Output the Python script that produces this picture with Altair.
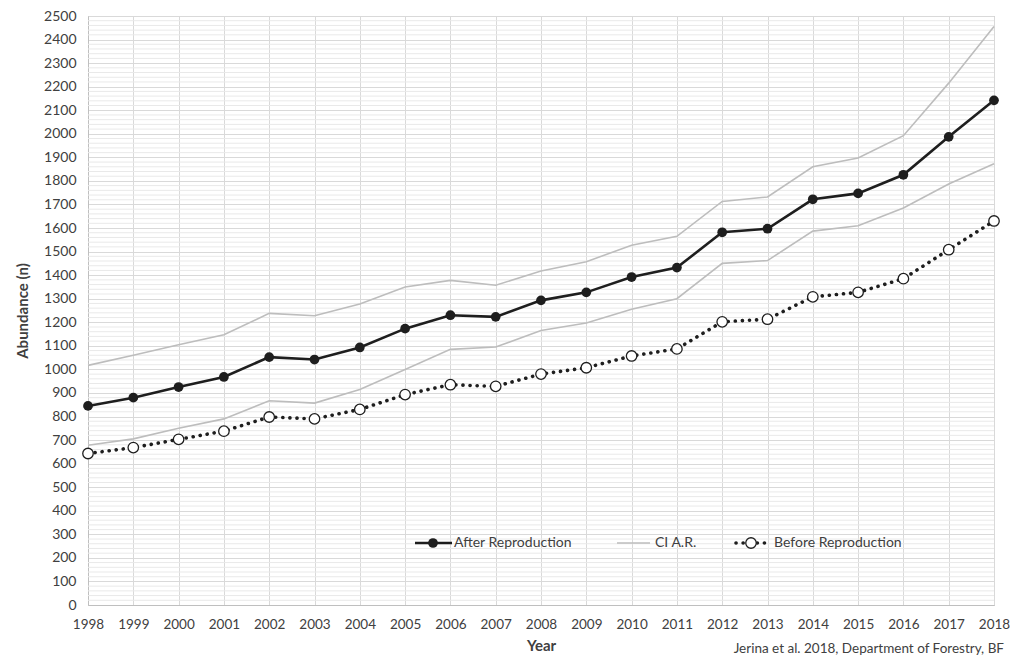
import altair as alt
import pandas as pd

years = list(range(1998, 2019))
after_repro = [845, 880, 925, 968, 1052, 1042, 1093, 1173, 1230, 1223, 1293,
               1327, 1392, 1432, 1582, 1597, 1722, 1747, 1826, 1987, 2142]
before_repro = [643, 668, 703, 738, 798, 790, 830, 893, 935, 928, 980,
                1007, 1057, 1087, 1202, 1213, 1308, 1327, 1385, 1508, 1630]
ci_upper = [1017, 1060, 1105, 1147, 1238, 1228, 1278, 1350, 1378, 1357, 1418,
            1457, 1527, 1565, 1713, 1732, 1860, 1897, 1992, 2215, 2455]
ci_lower = [678, 705, 750, 790, 867, 857, 915, 1000, 1085, 1095, 1165,
            1197, 1255, 1300, 1450, 1462, 1587, 1610, 1685, 1787, 1873]
y_ticks = list(range(0, 2501, 100))
minor_ticks = [v for v in range(0, 2501, 20) if v % 100 != 0]
legend_labels = ["After Reproduction", "CI A.R.", "Before Reproduction"]
credit_text = "Jerina et al. 2018, Department of Forestry, BF"

W, H = 906, 589
FONT = "Lato"
TXT = "#404040"

df = pd.DataFrame({"Year": years, "After": after_repro, "Before": before_repro})
ci_df = pd.concat([
    pd.DataFrame({"Year": years, "v": ci_upper, "s": "upper"}),
    pd.DataFrame({"Year": years, "v": ci_lower, "s": "lower"}),
])
minor_df = pd.DataFrame({"m": minor_ticks})
one = pd.DataFrame({"k": [0]})

xs = alt.Scale(domain=[1998, 2018], nice=False, zero=False)
ys = alt.Scale(domain=[0, 2500], nice=False)

x_axis = alt.Axis(values=years, format="d", title="Year", grid=True,
                  gridColor="#d9d9d9", ticks=False, labelPadding=12,
                  labelFontSize=13.5,
                  labelOverlap=False, labelFlush=False, labelBound=False,
                  domainColor="#bfbfbf", titlePadding=8)
y_axis = alt.Axis(values=y_ticks, format="d", title="Abundance (n)", grid=True,
                  gridColor="#d9d9d9", ticks=False, labelPadding=12,
                  labelOverlap=False, labelFlush=False, domainColor="#bfbfbf",
                  titlePadding=13)


def X(f):
    return alt.X(f, scale=xs, axis=x_axis)


def Y(f):
    return alt.Y(f, scale=ys, axis=y_axis)


base_axes = alt.Chart(df).mark_point(opacity=0).encode(x=X("Year:Q"), y=Y("After:Q"))

minor = alt.Chart(minor_df).mark_rule(color="#e9e9e9", strokeWidth=1).encode(y=Y("m:Q"))

ci = alt.Chart(ci_df).mark_line(color="#bdbdbd", strokeWidth=1.6).encode(
    x=X("Year:Q"), y=Y("v:Q"), detail="s:N")

after_line = alt.Chart(df).mark_line(color="#1e1e1e", strokeWidth=2.6).encode(
    x=X("Year:Q"), y=Y("After:Q"))
after_pts = alt.Chart(df).mark_point(filled=True, color="#1e1e1e", size=95, opacity=1).encode(
    x=X("Year:Q"), y=Y("After:Q"))

before_line = alt.Chart(df).mark_line(color="#1e1e1e", strokeWidth=3.6,
                                      strokeDash=[0.1, 7], strokeCap="round").encode(
    x=X("Year:Q"), y=Y("Before:Q"))
before_pts = alt.Chart(df).mark_point(filled=True, fill="white", stroke="#1e1e1e",
                                      strokeWidth=1.3, size=110, opacity=1).encode(
    x=X("Year:Q"), y=Y("Before:Q"))

# Legend (manual, inside plot)
LY = 527
leg = [
    alt.Chart(one).mark_rule(color="#1e1e1e", strokeWidth=2.6).encode(
        x=alt.value(327), x2=alt.value(364), y=alt.value(LY)),
    alt.Chart(one).mark_point(filled=True, color="#1e1e1e", size=95, opacity=1).encode(
        x=alt.value(345), y=alt.value(LY)),
    alt.Chart(one).mark_text(text=legend_labels[0], align="left", baseline="middle",
                             font=FONT, fontSize=14, color=TXT).encode(
        x=alt.value(366), y=alt.value(LY)),
    alt.Chart(one).mark_rule(color="#bdbdbd", strokeWidth=1.6).encode(
        x=alt.value(529), x2=alt.value(562), y=alt.value(LY)),
    alt.Chart(one).mark_text(text=legend_labels[1], align="left", baseline="middle",
                             font=FONT, fontSize=14, color=TXT).encode(
        x=alt.value(567), y=alt.value(LY)),
    alt.Chart(one).mark_rule(color="#1e1e1e", strokeWidth=3.6, strokeDash=[0.1, 7],
                             strokeCap="round").encode(
        x=alt.value(648), x2=alt.value(682), y=alt.value(LY)),
    alt.Chart(one).mark_point(filled=True, fill="white", stroke="#1e1e1e",
                              strokeWidth=1.3, size=110, opacity=1).encode(
        x=alt.value(663), y=alt.value(LY)),
    alt.Chart(one).mark_text(text=legend_labels[2], align="left", baseline="middle",
                             font=FONT, fontSize=14, color=TXT).encode(
        x=alt.value(686), y=alt.value(LY)),
]

credit = alt.Chart(one).mark_text(text=credit_text, align="right", baseline="middle",
                                  font=FONT, fontSize=13.5, color=TXT).encode(
    x=alt.value(916), y=alt.value(633))

chart = alt.layer(base_axes, minor, ci, after_line, before_line, after_pts, before_pts,
                  *leg, credit).properties(
    width=W, height=H,
    autosize=alt.AutoSizeParams(type="none"),
    padding={"left": 80, "top": 8, "right": 16, "bottom": 50},
).configure_view(stroke="#b0b0b0", strokeWidth=1).configure_axis(
    labelFont=FONT, labelFontSize=14, labelColor=TXT,
    titleFont=FONT, titleFontSize=15, titleFontWeight="bold", titleColor=TXT,
)

chart.save("out.html", embed_options={"renderer": "svg", "actions": False})
